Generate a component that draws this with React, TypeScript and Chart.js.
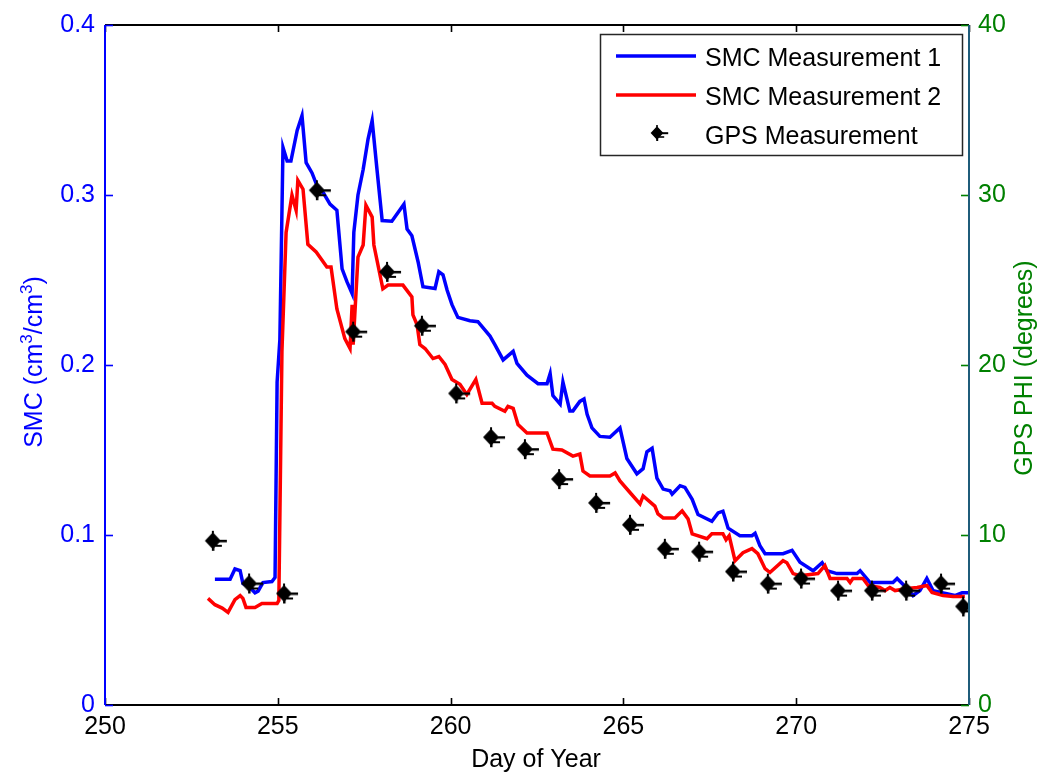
import React, { useEffect, useRef } from 'react';
import { Chart, registerables } from 'chart.js';

Chart.register(...registerables);

// ---------- data ----------
const smc1Days = [
  253.18, 253.62, 253.76, 253.91, 253.99, 254.2, 254.34, 254.43, 254.57, 254.83, 254.92,
  254.98, 255.06, 255.15, 255.27, 255.38, 255.56, 255.7, 255.82, 255.99, 256.13, 256.31,
  256.51, 256.71, 256.86, 257.0, 257.15, 257.2, 257.32, 257.47, 257.61, 257.73, 257.87,
  258.02, 258.3, 258.65, 258.74, 258.88, 259.06, 259.2, 259.55, 259.66, 259.78, 259.9,
  260.04, 260.21, 260.56, 260.79, 261.14, 261.28, 261.52, 261.81, 261.92, 262.21, 262.53,
  262.79, 262.88, 262.96, 263.17, 263.25, 263.45, 263.54, 263.74, 263.86, 263.95, 264.09,
  264.32, 264.61, 264.9, 265.1, 265.39, 265.57, 265.68, 265.83, 265.97, 266.15, 266.35,
  266.41, 266.64, 266.78, 266.99, 267.16, 267.56, 267.74, 267.88, 268.03, 268.37, 268.72,
  268.81, 268.95, 269.1, 269.62, 269.88, 270.11, 270.49, 270.75, 270.89, 271.18, 271.76,
  271.85, 272.14, 272.8, 272.92, 273.21, 273.38, 273.58, 273.78, 273.96, 274.59, 274.8, 275.0,
];
const smc1Values = [
  0.074, 0.074, 0.08, 0.079, 0.0715, 0.069, 0.066, 0.067, 0.072, 0.0726, 0.075,
  0.19, 0.215, 0.328, 0.32, 0.32, 0.338, 0.3467, 0.319, 0.313, 0.3057, 0.3016,
  0.2946, 0.291, 0.2565, 0.249, 0.242, 0.278, 0.3, 0.315, 0.3327, 0.3438, 0.315,
  0.285, 0.2846, 0.2946, 0.28, 0.276, 0.2606, 0.246, 0.245, 0.2548, 0.253, 0.244,
  0.2355, 0.228, 0.226, 0.2255, 0.217, 0.212, 0.203, 0.208, 0.201, 0.194, 0.189,
  0.189, 0.195, 0.182, 0.177, 0.19, 0.173, 0.173, 0.1786, 0.18, 0.171, 0.163,
  0.158, 0.1575, 0.163, 0.145, 0.136, 0.139, 0.149, 0.151, 0.1335, 0.127, 0.126,
  0.124, 0.129, 0.128, 0.121, 0.112, 0.108, 0.113, 0.114, 0.104, 0.0996, 0.0996,
  0.101, 0.0937, 0.089, 0.089, 0.091, 0.084, 0.079, 0.0837, 0.079, 0.0773, 0.0773,
  0.079, 0.072, 0.072, 0.0744, 0.0685, 0.0644, 0.0673, 0.0744, 0.0673, 0.0644, 0.066, 0.066,
];

const smc2Days = [
  252.98, 253.18, 253.39, 253.56, 253.76, 253.91, 253.99, 254.08, 254.34, 254.54, 254.98,
  255.03, 255.12, 255.24, 255.41, 255.53, 255.58, 255.73, 255.87, 256.11, 256.42, 256.54,
  256.71, 256.94, 257.09, 257.15, 257.18, 257.32, 257.47, 257.55, 257.73, 257.78, 258.04,
  258.19, 258.62, 258.88, 258.91, 259.03, 259.11, 259.26, 259.49, 259.66, 259.84, 260.04,
  260.27, 260.47, 260.73, 260.91, 261.2, 261.28, 261.57, 261.66, 261.81, 261.95, 262.21,
  262.79, 262.96, 263.22, 263.54, 263.74, 263.83, 264.03, 264.61, 264.76, 264.9, 265.19,
  265.48, 265.57, 265.91, 266.0, 266.15, 266.49, 266.7, 266.87, 266.99, 267.42, 267.56,
  267.88, 267.97, 268.06, 268.23, 268.46, 268.72, 268.89, 269.1, 269.24, 269.62, 269.73,
  269.91, 270.11, 270.63, 270.83, 270.98, 271.47, 271.56, 271.64, 271.93, 272.08, 272.42,
  272.57, 272.71, 272.86, 273.21, 273.5, 273.78, 273.93, 274.25, 274.54, 274.88,
];
const smc2Values = [
  0.0627, 0.059, 0.057, 0.0545, 0.062, 0.0644, 0.0627, 0.0574, 0.0574, 0.0597, 0.0597,
  0.0615, 0.208, 0.278, 0.2999, 0.291, 0.3086, 0.3034, 0.271, 0.2665, 0.2577, 0.2577,
  0.233, 0.2155, 0.2097, 0.2354, 0.212, 0.2635, 0.2706, 0.294, 0.287, 0.2706, 0.2448,
  0.247, 0.247, 0.24, 0.2295, 0.2237, 0.212, 0.2097, 0.2038, 0.205, 0.2003, 0.1915,
  0.1886, 0.1827, 0.1915, 0.1775, 0.1775, 0.1757, 0.1728, 0.1757, 0.1745, 0.165, 0.16,
  0.16, 0.1505, 0.15, 0.1464, 0.1476, 0.1376, 0.1347, 0.1347, 0.1365, 0.1318, 0.125,
  0.1183, 0.123, 0.117, 0.1124, 0.11, 0.11, 0.1142, 0.1095, 0.1007, 0.0978, 0.1007,
  0.1007, 0.0972, 0.0996, 0.0849, 0.0896, 0.092, 0.089, 0.0802, 0.0779, 0.0849, 0.0837,
  0.0773, 0.0761, 0.0773, 0.082, 0.0744, 0.0744, 0.072, 0.0744, 0.0744, 0.0703, 0.0691,
  0.0673, 0.0691, 0.0673, 0.0685, 0.0691, 0.0703, 0.0662, 0.0644, 0.0638, 0.0638,
];

const gpsDays = [
  253.12, 254.17, 255.18, 256.13, 257.18, 258.16, 259.17, 260.16, 261.17, 262.15, 263.14,
  264.21, 265.19, 266.2, 267.19, 268.17, 269.18, 270.14, 271.21, 272.19, 273.18, 274.19, 274.83,
];
const gpsPhi = [
  9.66, 7.15, 6.56, 30.28, 21.96, 25.48, 22.31, 18.33, 15.75, 15.05, 13.29,
  11.89, 10.6, 9.19, 9.02, 7.85, 7.14, 7.44, 6.73, 6.73, 6.73, 7.14, 5.8,
];

const xTicks = [250, 255, 260, 265, 270, 275];
const smcTicks = [0, 0.1, 0.2, 0.3, 0.4];
const gpsTicks = [0, 10, 20, 30, 40];

const seriesNames = ['SMC Measurement 1', 'SMC Measurement 2', 'GPS Measurement'];

const BLUE = '#0000ff';
const RED = '#ff0000';
const GREEN = '#008000';
const RIGHT_AXIS = '#1f5c7a';
const FONT = '"Liberation Sans", Arial, sans-serif';

function drawGpsMarker(ctx: CanvasRenderingContext2D, cx: number, cy: number, s: number) {
  ctx.fillStyle = '#000';
  ctx.beginPath();
  ctx.moveTo(cx, cy - 8.5 * s);
  ctx.lineTo(cx + 8 * s, cy);
  ctx.lineTo(cx, cy + 8.5 * s);
  ctx.lineTo(cx - 8 * s, cy);
  ctx.closePath();
  ctx.fill();
  ctx.fillRect(cx, cy - 1 * s, 14 * s, 2.5 * s);
  ctx.fillRect(cx + 2 * s, cy + 4 * s, 7 * s, 2 * s);
  ctx.fillRect(cx - 1 * s, cy + 5 * s, 2.5 * s, 5 * s);
  ctx.fillRect(cx - 1 * s, cy - 10 * s, 2 * s, 3 * s);
}

function makeMarker(): HTMLCanvasElement {
  const c = document.createElement('canvas');
  c.width = 34;
  c.height = 26;
  const ctx = c.getContext('2d')!;
  drawGpsMarker(ctx, 17, 13, 1);
  return c;
}

const overlayPlugin = {
  id: 'overlay',
  afterDatasetsDraw(chart: any) {
    const { ctx, chartArea: a, scales } = chart;
    ctx.save();
    const line = (x1: number, y1: number, x2: number, y2: number) => {
      ctx.beginPath();
      ctx.moveTo(x1, y1);
      ctx.lineTo(x2, y2);
      ctx.stroke();
    };
    ctx.lineWidth = 1.6;
    // x ticks (inward, top and bottom)
    ctx.strokeStyle = '#000';
    for (const v of xTicks) {
      const px = Math.round(scales.x.getPixelForValue(v)) + 0.5;
      line(px, a.bottom, px, a.bottom - 7);
      line(px, a.top, px, a.top + 7);
    }
    // top & bottom border
    ctx.lineWidth = 2;
    line(a.left, a.top, a.right, a.top);
    line(a.left, a.bottom, a.right, a.bottom);
    // left axis
    ctx.lineWidth = 1.6;
    ctx.strokeStyle = BLUE;
    for (const v of smcTicks) {
      const py = Math.round(scales.y.getPixelForValue(v)) + 0.5;
      line(a.left, py, a.left + 8, py);
    }
    ctx.lineWidth = 2;
    line(a.left, a.top, a.left, a.bottom);
    // right axis
    ctx.lineWidth = 1.6;
    ctx.strokeStyle = GREEN;
    for (const v of gpsTicks) {
      const py = Math.round(scales.y1.getPixelForValue(v)) + 0.5;
      line(a.right - 8, py, a.right, py);
    }
    ctx.strokeStyle = RIGHT_AXIS;
    ctx.lineWidth = 2;
    line(a.right, a.top, a.right, a.bottom);

    // legend
    const lx = 600, ly = 34, lw = 362, lh = 121;
    ctx.fillStyle = '#fff';
    ctx.fillRect(lx, ly, lw, lh);
    ctx.strokeStyle = '#262626';
    ctx.lineWidth = 1.5;
    ctx.strokeRect(lx + 0.5, ly + 0.5, lw, lh);
    ctx.lineWidth = 3.5;
    ctx.strokeStyle = BLUE;
    line(616, 56, 696, 56);
    ctx.strokeStyle = RED;
    line(616, 95, 696, 95);
    drawGpsMarker(ctx, 657, 133, 0.8);
    ctx.fillStyle = '#000';
    ctx.font = `25px ${FONT}`;
    ctx.textAlign = 'left';
    ctx.textBaseline = 'middle';
    ctx.fillText(seriesNames[0], 705, 59);
    ctx.fillText(seriesNames[1], 705, 98);
    ctx.fillText(seriesNames[2], 705, 137);
    ctx.restore();
  },
  afterDraw(chart: any) {
    const { ctx } = chart;
    ctx.save();
    // bottom title
    ctx.fillStyle = '#000';
    ctx.font = `25px ${FONT}`;
    ctx.textAlign = 'center';
    ctx.textBaseline = 'middle';
    ctx.fillText('Day of Year', 536, 760);

    // right title
    ctx.save();
    ctx.translate(1025, 368);
    ctx.rotate(-Math.PI / 2);
    ctx.fillStyle = GREEN;
    ctx.fillText('GPS PHI (degrees)', 0, 0);
    ctx.restore();

    // left title with superscripts
    ctx.save();
    ctx.translate(33, 362);
    ctx.rotate(-Math.PI / 2);
    ctx.fillStyle = BLUE;
    ctx.textAlign = 'left';
    ctx.textBaseline = 'alphabetic';
    const big = `25px ${FONT}`;
    const small = `17px ${FONT}`;
    const parts: [string, boolean][] = [['SMC (cm', false], ['3', true], ['/cm', false], ['3', true], [')', false]];
    let total = 0;
    for (const [t, sup] of parts) {
      ctx.font = sup ? small : big;
      total += ctx.measureText(t).width;
    }
    let x = -total / 2;
    const base = 9;
    for (const [t, sup] of parts) {
      ctx.font = sup ? small : big;
      ctx.fillText(t, x, sup ? base - 10 : base);
      x += ctx.measureText(t).width;
    }
    ctx.restore();
    ctx.restore();
  },
};

export default function App() {
  const ref = useRef<HTMLCanvasElement | null>(null);
  useEffect(() => {
    const canvas = ref.current;
    if (!canvas) return;
    const marker = makeMarker();
    const chart = new Chart(canvas, {
      type: 'line',
      data: {
        datasets: [
          {
            label: seriesNames[2],
            data: gpsDays.map((d, i) => ({ x: d, y: gpsPhi[i] })),
            yAxisID: 'y1',
            showLine: false,
            pointStyle: marker as any,
            pointRadius: 8,
            borderColor: '#000',
            backgroundColor: '#000',
            order: 0,
          },
          {
            label: seriesNames[1],
            data: smc2Days.map((d, i) => ({ x: d, y: smc2Values[i] })),
            yAxisID: 'y',
            borderColor: RED,
            backgroundColor: RED,
            borderWidth: 3.5,
            pointRadius: 0,
            tension: 0,
            order: 1,
          },
          {
            label: seriesNames[0],
            data: smc1Days.map((d, i) => ({ x: d, y: smc1Values[i] })),
            yAxisID: 'y',
            borderColor: BLUE,
            backgroundColor: BLUE,
            borderWidth: 3.5,
            pointRadius: 0,
            tension: 0,
            order: 2,
          },
        ],
      },
      options: {
        responsive: false,
        animation: false,
        layout: { padding: { top: 22, left: 0, right: 0, bottom: 0 } },
        plugins: { legend: { display: false }, tooltip: { enabled: false } },
        scales: {
          x: {
            type: 'linear',
            position: 'bottom',
            min: 250,
            max: 275,
            afterBuildTicks: (s: any) => {
              s.ticks = xTicks.map((v) => ({ value: v }));
            },
            afterFit: (s: any) => {
              s.height = 70;
            },
            grid: { display: false, drawTicks: false },
            border: { display: false },
            ticks: {
              color: '#000',
              font: { family: FONT, size: 25 },
              padding: 7,
              maxRotation: 0,
              autoSkip: false,
              callback: (v: any) => String(v),
            },
          },
          y: {
            type: 'linear',
            position: 'left',
            min: 0,
            max: 0.4,
            afterBuildTicks: (s: any) => {
              s.ticks = smcTicks.map((v) => ({ value: v }));
            },
            afterFit: (s: any) => {
              s.width = 105;
            },
            grid: { display: false, drawTicks: false },
            border: { display: false },
            ticks: {
              color: BLUE,
              font: { family: FONT, size: 25 },
              padding: 10,
              callback: (v: any) => String(Math.round(Number(v) * 10) / 10),
            },
          },
          y1: {
            type: 'linear',
            position: 'right',
            min: 0,
            max: 40,
            afterBuildTicks: (s: any) => {
              s.ticks = gpsTicks.map((v) => ({ value: v }));
            },
            afterFit: (s: any) => {
              s.width = 72;
            },
            grid: { display: false, drawTicks: false },
            border: { display: false },
            ticks: {
              color: GREEN,
              font: { family: FONT, size: 25 },
              padding: 9,
              callback: (v: any) => String(v),
            },
          },
        },
      },
      plugins: [overlayPlugin],
    });
    return () => chart.destroy();
  }, []);

  return (
    <div style={{ position: 'absolute', left: 0, top: 0, width: 1041, height: 775, background: '#fff' }}>
      <canvas ref={ref} width={1041} height={775} style={{ display: 'block', width: 1041, height: 775 }} />
    </div>
  );
}
